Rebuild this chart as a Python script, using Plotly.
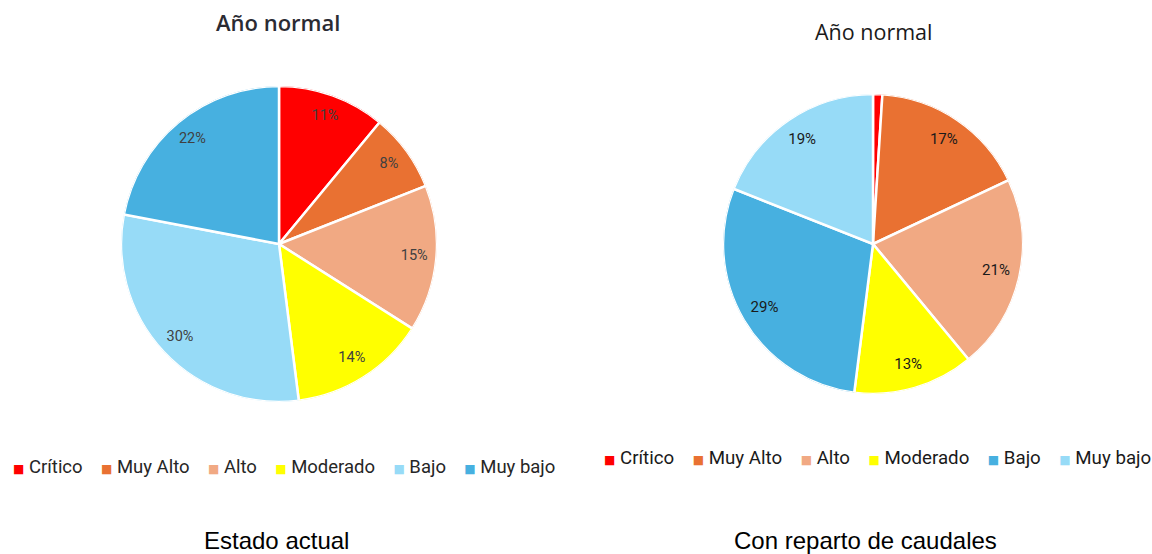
import itertools
import plotly.graph_objects as go

# Risk categories shared by both pies
categories = ["Crítico", "Muy Alto", "Alto", "Moderado", "Bajo", "Muy bajo"]

# Share of each category (%)
estado_actual = [11, 8, 15, 14, 30, 22]
reparto_caudales = [1, 17, 21, 13, 29, 19]

# Colours per category for each scenario
colors_actual = ["#FF0000", "#E97132", "#F1A983", "#FFFF00", "#97DBF7", "#47B0E0"]
colors_reparto = ["#FF0000", "#E97132", "#F1A983", "#FFFF00", "#47B0E0", "#97DBF7"]

W, H = 1152, 554

# Pie boxes in paper coordinates
dom_left = dict(x=[121 / W, 437 / W], y=[1 - 402 / H, 1 - 86 / H])
dom_right = dict(x=[723 / W, 1023 / W], y=[1 - 394 / H, 1 - 94 / H])


def slice_geometry(values):
    """Mid angle and angular width (degrees, clockwise from 12 o'clock) of each slice."""
    total = sum(values)
    ends = list(itertools.accumulate(values))
    mids = [(e - v / 2) / total * 360 for e, v in zip(ends, values)]
    widths = [v / total * 360 for v in values]
    return mids, widths


def legend_text(labels, colors):
    parts = [
        f"<span style='color:{c};font-size:12px;font-family:DejaVu Sans'>■</span>&nbsp;{lab}"
        for lab, c in zip(labels, colors)
    ]
    return "&nbsp;&nbsp;&nbsp;&nbsp;".join(parts)


def add_pie(values, colors, subplot, label_r, font):
    mids, widths = slice_geometry(values)
    fig.add_trace(go.Barpolar(
        theta=mids, width=widths, r=[1] * len(values),
        marker=dict(color=colors, line=dict(color="white", width=2.5)),
        text=categories, hovertemplate="%{text}<extra></extra>",
        subplot=subplot, showlegend=False,
    ))
    fig.add_trace(go.Scatterpolar(
        theta=mids, r=label_r,
        text=[f"{v}%" for v in values],
        mode="text", subplot=subplot, showlegend=False, hoverinfo="skip",
        cliponaxis=False, textfont=font,
    ))


fig = go.Figure()

add_pie(estado_actual, colors_actual, "polar", [0.86] * 6,
        dict(family="Roboto", size=14.5, color="#404040"))
add_pie(reparto_caudales, colors_reparto, "polar2", [1.09] + [0.84] * 5,
        dict(family="Roboto", size=15, color="#1A1A1A"))

polar_common = dict(
    bgcolor="rgba(0,0,0,0)",
    hole=0,
    radialaxis=dict(range=[0, 1], visible=False),
    angularaxis=dict(direction="clockwise", rotation=90, visible=False),
)

fig.update_layout(
    width=W, height=H,
    margin=dict(l=0, r=0, t=0, b=0),
    paper_bgcolor="white", plot_bgcolor="white",
    polar=dict(domain=dom_left, **polar_common),
    polar2=dict(domain=dom_right, **polar_common),
    annotations=[
        dict(text="Año normal", x=278 / W, y=1 - 22 / H, xref="paper", yref="paper",
             showarrow=False, xanchor="center", yanchor="middle",
             font=dict(family="Open Sans", size=22, color="#2B2B33", weight=600)),
        dict(text="Año normal", x=873 / W, y=1 - 31 / H, xref="paper", yref="paper",
             showarrow=False, xanchor="center", yanchor="middle",
             font=dict(family="Open Sans", size=21.5, color="#1A1A1A")),
        dict(text=legend_text(categories, colors_actual),
             x=284 / W, y=1 - 467 / H, xref="paper", yref="paper",
             showarrow=False, xanchor="center", yanchor="middle",
             font=dict(family="Roboto", size=18.5, color="#262626")),
        dict(text=legend_text(categories, colors_reparto),
             x=877 / W, y=1 - 458 / H, xref="paper", yref="paper",
             showarrow=False, xanchor="center", yanchor="middle",
             font=dict(family="Roboto", size=18.7, color="#1A1A1A")),
        dict(text="Estado actual", x=276 / W, y=1 - 540 / H, xref="paper", yref="paper",
             showarrow=False, xanchor="center", yanchor="middle",
             font=dict(family="Liberation Sans", size=24, color="black")),
        dict(text="Con reparto de caudales", x=865 / W, y=1 - 540 / H, xref="paper", yref="paper",
             showarrow=False, xanchor="center", yanchor="middle",
             font=dict(family="Liberation Sans", size=24, color="black")),
    ],
)

fig.write_html("out.html")
